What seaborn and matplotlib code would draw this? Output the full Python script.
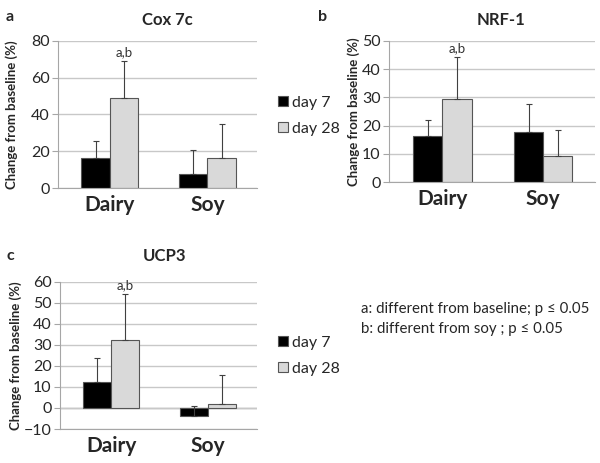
import pandas as pd
import matplotlib
matplotlib.use("Agg")
import matplotlib.pyplot as plt
import seaborn as sns
from matplotlib.patches import Patch

# dados
diets = ["Dairy", "Soy"]
days = ["day 7", "day 28"]

cox_day7 = [16.2, 7.7]
cox_day7_err = [9.5, 13.3]
cox_day28 = [49.2, 16.2]
cox_day28_err = [19.6, 18.9]

nrf_day7 = [16.4, 17.6]
nrf_day7_err = [5.5, 9.9]
nrf_day28 = [29.4, 9.2]
nrf_day28_err = [14.7, 9.2]

ucp_day7 = [12.2, -4.0]
ucp_day7_err = [11.6, 4.8]
ucp_day28 = [32.5, 2.0]
ucp_day28_err = [21.5, 13.9]

cores = ["black", "#d9d9d9"]
cinza = "#a6a6a6"

sns.set_style("white")
plt.rcParams["font.family"] = ["Lato", "DejaVu Sans"]


def montar_df(d7, d28):
    linhas = []
    for dia, vals in zip(days, [d7, d28]):
        for dieta, v in zip(diets, vals):
            linhas.append({"diet": dieta, "day": dia, "value": v})
    return pd.DataFrame(linhas)


def painel(ax, d7, d28, e7, e28, ylim, yticks, ylabel_x):
    df = montar_df(d7, d28)
    ax.set_axisbelow(True)
    ax.yaxis.grid(True, color="#c8c8c8", linewidth=1)
    sns.barplot(data=df, x="diet", y="value", hue="day", hue_order=days,
                palette=cores, edgecolor="#555555", linewidth=0.8,
                width=0.58, errorbar=None, legend=False, ax=ax)
    for cont, erros in zip(ax.containers, [e7, e28]):
        for barra, err in zip(cont, erros):
            x = barra.get_x() + barra.get_width() / 2
            # barra negativa: o erro parte da base da barra
            y = max(barra.get_y(), barra.get_y() + barra.get_height())
            if barra.get_height() < 0:
                y = barra.get_y() + barra.get_height()
            ax.errorbar(x, y, yerr=[[0], [err]], color="#404040",
                        elinewidth=0.8, capsize=2, capthick=0.8)
    # anotação a,b
    b28 = ax.containers[1][0]
    topo = b28.get_height() + e28[0]
    ax.annotate("a,b", (b28.get_x() + b28.get_width() / 2, topo),
                xytext=(0, 2), textcoords="offset points", ha="center",
                va="bottom", fontsize=9.5, color="#333333")
    ax.set_ylim(*ylim)
    ax.set_yticks(yticks)
    ax.set_xlim(-0.53, 1.51)
    ax.set_xlabel("")
    ax.set_ylabel("Change from baseline (%)", fontsize=9.5, fontweight="bold")
    ax.yaxis.set_label_coords(ylabel_x, 0.5)
    ax.tick_params(axis="y", labelsize=11.5, length=4, color=cinza, pad=2, left=True)
    ax.tick_params(axis="x", labelsize=15, length=0, pad=5)
    for lbl in ax.get_xticklabels():
        lbl.set_fontweight("bold")
    sns.despine(ax=ax, top=True, right=True)
    ax.spines["left"].set_color(cinza)
    ax.spines["bottom"].set_color(cinza)


fig = plt.figure(figsize=(6, 4.63), dpi=100)
ax_a = fig.add_axes([0.0967, 0.5933, 0.332, 0.3188])
ax_b = fig.add_axes([0.648, 0.6063, 0.343, 0.3058])
ax_c = fig.add_axes([0.1, 0.0734, 0.329, 0.318])

painel(ax_a, cox_day7, cox_day28, cox_day7_err, cox_day28_err,
       (0, 80), [0, 20, 40, 60, 80], -0.2)
painel(ax_b, nrf_day7, nrf_day28, nrf_day7_err, nrf_day28_err,
       (0, 50), [0, 10, 20, 30, 40, 50], -0.14)
painel(ax_c, ucp_day7, ucp_day28, ucp_day7_err, ucp_day28_err,
       (-10, 60), [-10, 0, 10, 20, 30, 40, 50, 60], -0.19)
ax_c.axhline(0, color=cinza, linewidth=1, zorder=0.5)

# títulos e letras dos painéis
fig.text(167 / 600, 1 - 20 / 463, "Cox 7c", ha="center", va="center", fontsize=12, fontweight="bold")
fig.text(501 / 600, 1 - 20 / 463, "NRF-1", ha="center", va="center", fontsize=12, fontweight="bold")
fig.text(165 / 600, 1 - 256 / 463, "UCP3", ha="center", va="center", fontsize=12, fontweight="bold")
fig.text(10 / 600, 1 - 17 / 463, "a", ha="center", va="center", fontsize=11.5, fontweight="bold")
fig.text(323 / 600, 1 - 17 / 463, "b", ha="center", va="center", fontsize=11.5, fontweight="bold")
fig.text(10 / 600, 1 - 256 / 463, "c", ha="center", va="center", fontsize=11.5, fontweight="bold")

# legendas
handles = [Patch(facecolor=c, edgecolor="#555555", linewidth=0.8) for c in cores]
for y in [116 / 463, 356 / 463]:
    fig.legend(handles, days, loc="center left", bbox_to_anchor=(270 / 600, 1 - y),
               frameon=False, fontsize=11.5, handlelength=0.6, handleheight=0.6,
               handletextpad=0.3, labelspacing=0.75, borderpad=0)

fig.text(361 / 600, 1 - 309 / 463, "a: different from baseline; p \u2264 0.05",
         ha="left", va="center", fontsize=10.8)
fig.text(361 / 600, 1 - 329 / 463, "b: different from soy ; p \u2264 0.05",
         ha="left", va="center", fontsize=10.8)

fig.savefig("out.png", dpi=100)
